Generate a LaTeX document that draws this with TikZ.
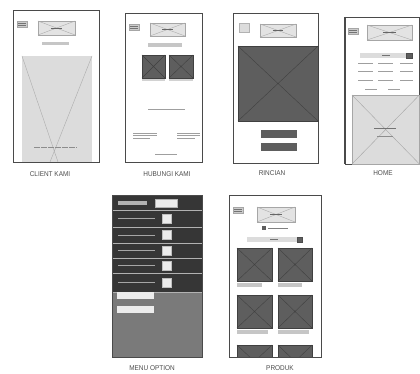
\documentclass[tikz,border=0pt]{standalone}
\usepackage{fontspec}
\setmainfont{Liberation Sans}
\definecolor{framec}{HTML}{4A4A4A}
\definecolor{lightfill}{HTML}{DCDCDC}
\definecolor{darkfill}{HTML}{5E5E5E}
\definecolor{menudark}{HTML}{363636}
\definecolor{menugray}{HTML}{7A7A7A}
\tikzset{
  screen/.style={draw=framec, line width=0.9pt, fill=white},
  imglight/.style={fill=lightfill, draw=gray!70},
  imgdark/.style={fill=darkfill, draw=black!75},
  crosslight/.style={draw=gray!65, line width=0.4pt},
  greybar/.style={fill=gray!45, draw=none},
  thinline/.style={draw=gray!75, line width=0.6pt},
  caption/.style={font=\fontsize{7}{8}\selectfont, text=black!70, inner sep=0pt, xscale=0.92}
}
% image placeholder: rectangle with a cross
\newcommand\wfimage[5]{%
  \filldraw[#1] (#2,#3) rectangle (#4,#5);
  \draw[#1, fill=none, line width=0.4pt] (#2,#3) -- (#4,#5) (#2,#5) -- (#4,#3);}
% logo placeholder
\newcommand\wflogo[4]{%
  \filldraw[fill=gray!22, draw=gray!70, line width=0.4pt] (#1,#2) rectangle (#3,#4);
  \draw[gray!65, line width=0.4pt] (#1,#2) -- (#3,#4) (#1,#4) -- (#3,#2);
  \draw[black!60, line width=0.6pt] ({#1+0.35*(#3-#1)},{(#2+#4)/2}) -- ({#1+0.65*(#3-#1)},{(#2+#4)/2});}
% menu icon
\newcommand\wfmenu[2]{%
  \filldraw[fill=gray!40, draw=gray!70, line width=0.3pt] (#1,#2) rectangle ++(10,6);
  \draw[black!55, line width=0.4pt] (#1+1,#2+2) -- ++(8,0) (#1+1,#2+4) -- ++(8,0);}
\begin{document}
\begin{tikzpicture}[x=1pt,y=-1pt]
\useasboundingbox (0,0) rectangle (420,374);

% ---------- CLIENT KAMI ----------
\draw[screen] (13,10) rectangle (99,162);
\wfmenu{17}{21}
\wflogo{38}{21}{75}{35}
\fill[greybar] (42,42) rectangle (69,45);
\fill[lightfill] (22,56) rectangle (92,162);
\draw[crosslight] (22,56) -- (58,162) (92,56) -- (50,162);
\draw[black!45, line width=1pt, dash pattern=on 6pt off 1pt] (34,148) -- (77,148);
\draw[screen, fill=none] (13,10) rectangle (99,162);
\node[caption] (c1) at (50,174) {CLIENT KAMI};

% ---------- HUBUNGI KAMI ----------
\draw[screen] (125,13) rectangle (202,162);
\wfmenu{129}{24}
\wflogo{150}{23}{185}{36}
\fill[greybar] (148,43) rectangle (182,47);
\wfimage{imgdark}{142}{55}{165}{78}
\wfimage{imgdark}{169}{55}{193}{78}
\fill[gray!35] (142,79) rectangle (165,81);
\fill[gray!35] (169,79) rectangle (193,81);
\draw[thinline] (148,109.5) -- (185,109.5);
\draw[thinline] (133,133) -- (157,133) (133,135.5) -- (157,135.5) (133,138) -- (150,138);
\draw[thinline] (177,133) -- (200,133) (177,135.5) -- (200,135.5) (177,138) -- (195,138);
\draw[thinline, line width=0.4pt] (155,154) -- (177,154);
\node[caption] (c2) at (167,174) {HUBUNGI KAMI};

% ---------- RINCIAN ----------
\draw[screen] (233,13) rectangle (318,163);
\filldraw[fill=lightfill, draw=gray!60, line width=0.3pt] (239,23) rectangle (249,32);
\wflogo{260}{24}{296}{37}
\wfimage{imgdark}{238}{46}{318}{121}
\fill[darkfill] (261,130) rectangle (297,138);
\fill[darkfill] (261,143) rectangle (297,151);
\node[caption] (c3) at (272,173) {RINCIAN};

% ---------- HOME ----------
\draw[screen] (345,17) rectangle (419.4,164);
\wfmenu{348}{28}
\wflogo{367}{25}{412}{40}
\fill[lightfill] (360,53) rectangle (412,58);
\filldraw[fill=darkfill, draw=black!70, line width=0.3pt] (406,53) rectangle (412,58);
\draw[black!55, line width=0.4pt] (382,55.5) -- (390,55.5);
\foreach \yy in {63,71,80}{
  \draw[thinline] (358,\yy) -- (373,\yy) (378,\yy) -- (393,\yy) (400,\yy) -- (413,\yy);}
\draw[thinline] (365,89) -- (377,89) (388,89) -- (400,89);
\wfimage{imglight}{352}{95}{419.4}{164}
\draw[black!55, line width=0.5pt] (374,128) -- (396,128);
\draw[black!45, line width=0.5pt] (377,136) -- (393,136);
\draw[framec, line width=1.2pt] (345,17) -- (345,164);
\node[caption] (c4) at (383,173) {HOME};

% ---------- MENU OPTION ----------
\fill[menugray] (112,195) rectangle (202,357);
\fill[menudark] (112,195) rectangle (202,292);
\foreach \yy in {210,227,243,258,273,292}{
  \draw[gray!60, line width=0.6pt] (112,\yy) -- (202,\yy);}
\draw[framec, line width=0.8pt] (112,195) rectangle (202,357);
% first row: label and button
\fill[gray!60] (118,201) rectangle (147,205);
\filldraw[fill=gray!15, draw=gray!60, line width=0.3pt] (155,199) rectangle (177,207);
% option rows: slider line and check box
\foreach \yy in {218.5,235,250.5,265.5,282.5}{
  \draw[gray!70, line width=0.6pt] (118,\yy) -- (155,\yy);
  \filldraw[fill=gray!15, draw=gray!50, line width=0.3pt] (162,\yy-4.5) rectangle (171,\yy+4.5);}
\fill[gray!15] (117,292) rectangle (154,299);
\fill[gray!15] (117,306) rectangle (154,313);
\node[caption] (c5) at (152,368) {MENU OPTION};

% ---------- PRODUK ----------
\draw[screen] (229,195) rectangle (321,357);
\wfmenu{233}{207}
\wflogo{257}{207}{295}{222}
\fill[darkfill] (262,226) rectangle (266,230);
\draw[black!50, line width=0.5pt] (268,228) -- (288,228);
\fill[lightfill] (247,237) rectangle (302,242);
\filldraw[fill=darkfill, draw=black!70, line width=0.3pt] (297,237) rectangle (302,242);
\draw[black!55, line width=0.4pt] (270,239.5) -- (278,239.5);
\wfimage{imgdark}{237}{248}{272}{281}
\wfimage{imgdark}{278}{248}{312}{281}
\fill[gray!45] (237,283) rectangle (262,287);
\fill[gray!45] (278,283) rectangle (302,287);
\wfimage{imgdark}{237}{295}{272}{328}
\wfimage{imgdark}{278}{295}{312}{328}
\fill[gray!45] (237,330) rectangle (268,334);
\fill[gray!45] (278,330) rectangle (309,334);
\begin{scope}
  \clip (229,195) rectangle (321,357);
  \wfimage{imgdark}{237}{345}{272}{378}
  \wfimage{imgdark}{278}{345}{312}{378}
\end{scope}
\draw[framec, line width=0.8pt] (229,195) rectangle (321,357);
\node[caption] (c6) at (280,368) {PRODUK};
\end{tikzpicture}
\end{document}
